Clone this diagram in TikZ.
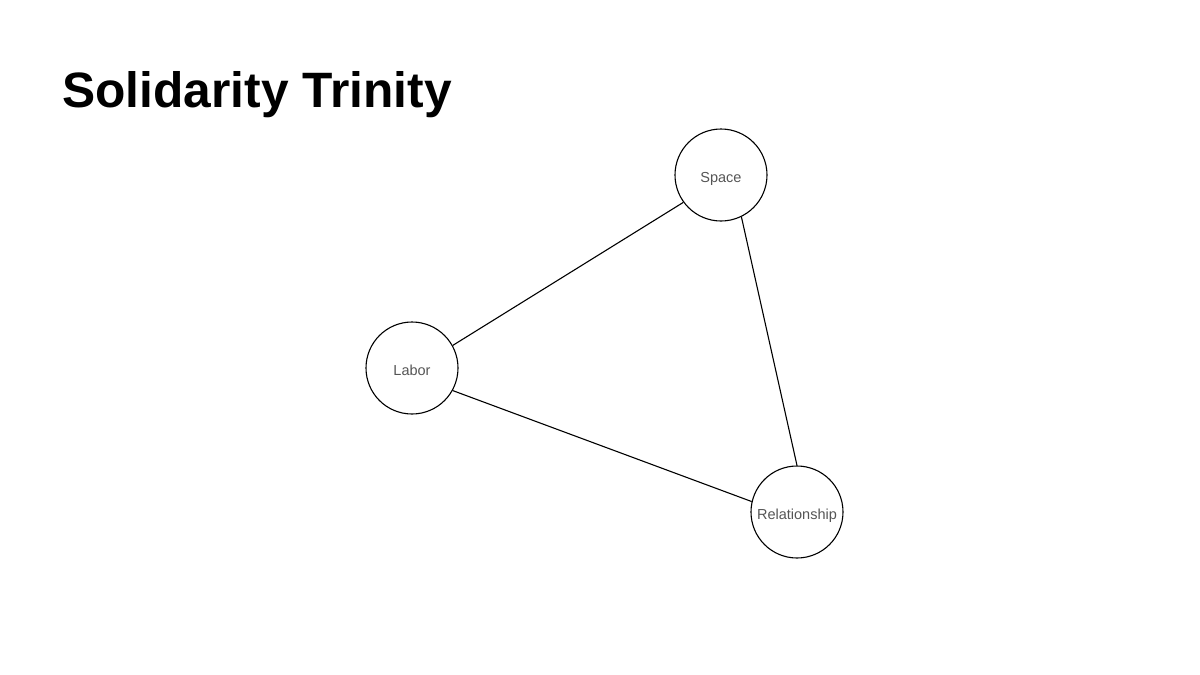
\documentclass[tikz,border=0pt]{standalone}
\usepackage{fontspec}
\setmainfont{Liberation Sans}
\usetikzlibrary{positioning}
\definecolor{labelgray}{HTML}{555555}
\tikzset{
	pillar/.style={draw, circle, line width=1.1pt, minimum size=92pt, inner sep=0pt, text=labelgray, text height=15.4pt, text depth=0pt, font=\fontsize{14.5}{16}\selectfont},
	tie/.style={line width=1.1pt}
}
\begin{document}
\begin{tikzpicture}[x=1pt, y=-1pt]
	\useasboundingbox (0,0) rectangle (1200,675);
	\node[anchor=base west, inner sep=0pt, font=\fontsize{49.7}{54}\bfseries\selectfont] at (62,107) (title) {Solidarity Trinity};
	
	\node[pillar] at (721,175) (space) {Space};
	\node[pillar] at (412,368) (labor) {Labor};
	\node[pillar] at (797,512) (relation) {Relationship};
	
	\draw[tie] (labor.29) -- (space.216);
	\draw[tie] (space.296) -- (relation.90);
	\draw[tie] (labor.-29) -- (relation.167);
	
\end{tikzpicture}
\end{document}
